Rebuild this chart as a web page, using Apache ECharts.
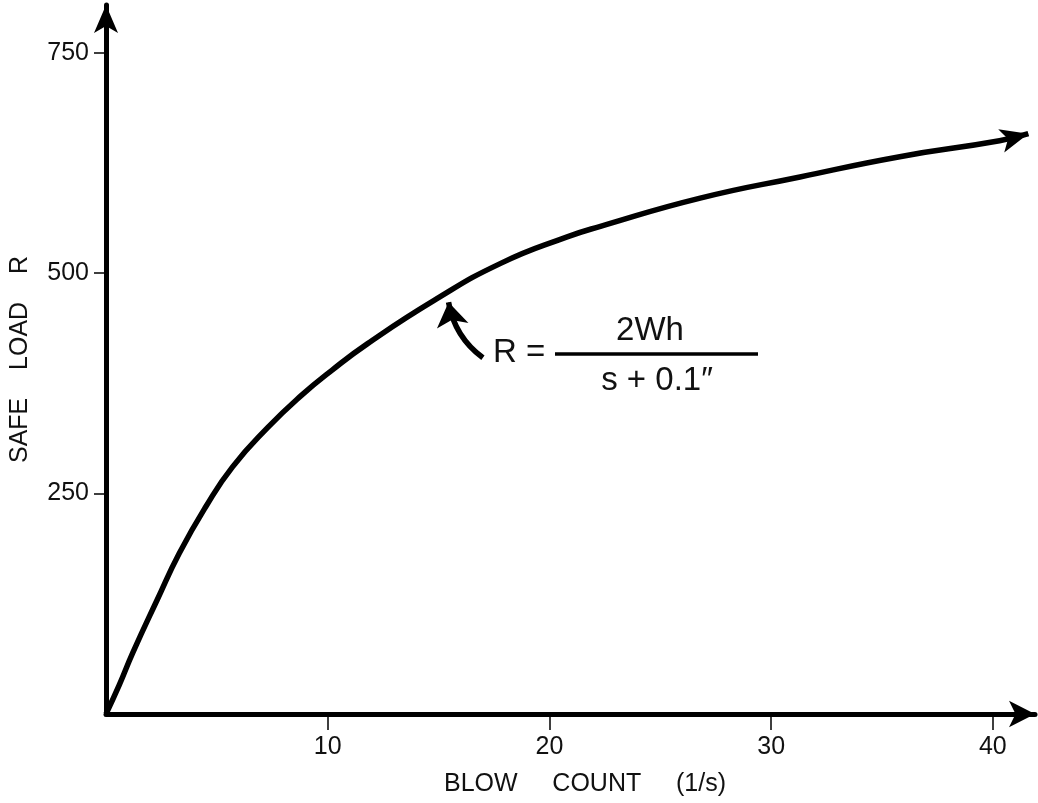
<!DOCTYPE html>
<html><head><meta charset="utf-8">
<script src="https://cdn.jsdelivr.net/npm/echarts@6/dist/echarts.min.js"></script>
<style>html,body{margin:0;padding:0;background:#fff}#c{width:1038px;height:803px}</style>
</head><body><div id="c"></div>
<script>
// Data
const blowCount = [0, 0.6, 1.2, 2.3, 3.3, 4.5, 5.7, 7.3, 8.8, 10.2, 11.8, 14.8, 17.8, 20.8, 22.3, 26.8, 31.3, 35.8, 40.3, 41.6];
const safeLoad  = [0, 33, 69, 129, 182, 235, 280, 325, 361, 390, 420, 469, 511, 541, 553, 585, 609, 632, 650, 658];
const xTickValues = [10, 20, 30, 40];
const yTickValues = [250, 500, 750];
const xAxisTitle = 'BLOW     COUNT     (1/s)';
const yAxisTitle = 'SAFE    LOAD    R';
const annotationArrow = [[17.0, 404], [15.45, 467]];
const formulaLeft = 'R =';
const formulaNumerator = '2Wh';
const formulaDenominator = 's + 0.1\u2033';

const FONT = 'Liberation Sans, Arial, sans-serif';
const chart = echarts.init(document.getElementById('c'));

const curveData = blowCount.map((x, i) => {
  const item = { value: [x, safeLoad[i]] };
  if (i === blowCount.length - 1) {
    item.symbol = 'arrow';
    item.symbolSize = [18, 28];
    item.symbolRotate = -75.5;
  }
  return item;
});

chart.setOption({
  backgroundColor: '#ffffff',
  animation: false,
  grid: { left: 106, top: 5, right: 3, bottom: 89 },
  xAxis: {
    type: 'value', min: 0, max: 41.9,
    splitLine: { show: false },
    axisLine: { onZero: false, lineStyle: { color: '#000', width: 5 }, symbol: ['none', 'arrow'], symbolSize: [20, 26] },
    axisTick: { customValues: xTickValues, length: 16, lineStyle: { color: '#000', width: 1.5 } },
    axisLabel: { customValues: xTickValues, margin: 21, fontSize: 25, color: '#111', fontFamily: FONT },
    name: xAxisTitle, nameLocation: 'middle', nameGap: 58,
    nameTextStyle: { fontSize: 25, color: '#111', fontFamily: FONT, padding: [0, 0, 0, 29] }
  },
  yAxis: {
    type: 'value', min: 0, max: 804,
    splitLine: { show: false },
    axisLine: { onZero: false, lineStyle: { color: '#000', width: 5 }, symbol: ['none', 'arrow'], symbolSize: [18, 28] },
    axisTick: { customValues: yTickValues, length: 12, lineStyle: { color: '#000', width: 1.5 } },
    axisLabel: { customValues: yTickValues, margin: 17, fontSize: 25, color: '#111', fontFamily: FONT },
    name: yAxisTitle, nameLocation: 'middle', nameGap: 73,
    nameTextStyle: { fontSize: 25, color: '#111', fontFamily: FONT }
  },
  series: [
    {
      type: 'line',
      data: curveData,
      smooth: 0.5,
      symbol: 'none',
      showSymbol: true,
      itemStyle: { color: '#000' },
      lineStyle: { color: '#000', width: 5.5 },
      silent: true
    },
    {
      type: 'lines',
      coordinateSystem: 'cartesian2d',
      symbol: ['none', 'arrow'],
      symbolSize: 24,
      lineStyle: { color: '#000', width: 5.5, curveness: 0.2, opacity: 1 },
      data: [{ coords: annotationArrow }],
      silent: true
    }
  ],
  graphic: [
    { type: 'text', style: { text: formulaLeft, x: 493, y: 353, fontSize: 33, fontFamily: FONT, fill: '#111', textAlign: 'left', textVerticalAlign: 'middle' } },
    { type: 'text', style: { text: formulaNumerator, x: 650, y: 331, fontSize: 33, fontFamily: FONT, fill: '#111', textAlign: 'center', textVerticalAlign: 'middle' } },
    { type: 'line', shape: { x1: 555, y1: 354, x2: 758, y2: 354 }, style: { stroke: '#000', lineWidth: 3.5 } },
    { type: 'text', style: { text: formulaDenominator, x: 657, y: 381, fontSize: 33, fontFamily: FONT, fill: '#111', textAlign: 'center', textVerticalAlign: 'middle' } }
  ]
});
</script>
</body></html>
